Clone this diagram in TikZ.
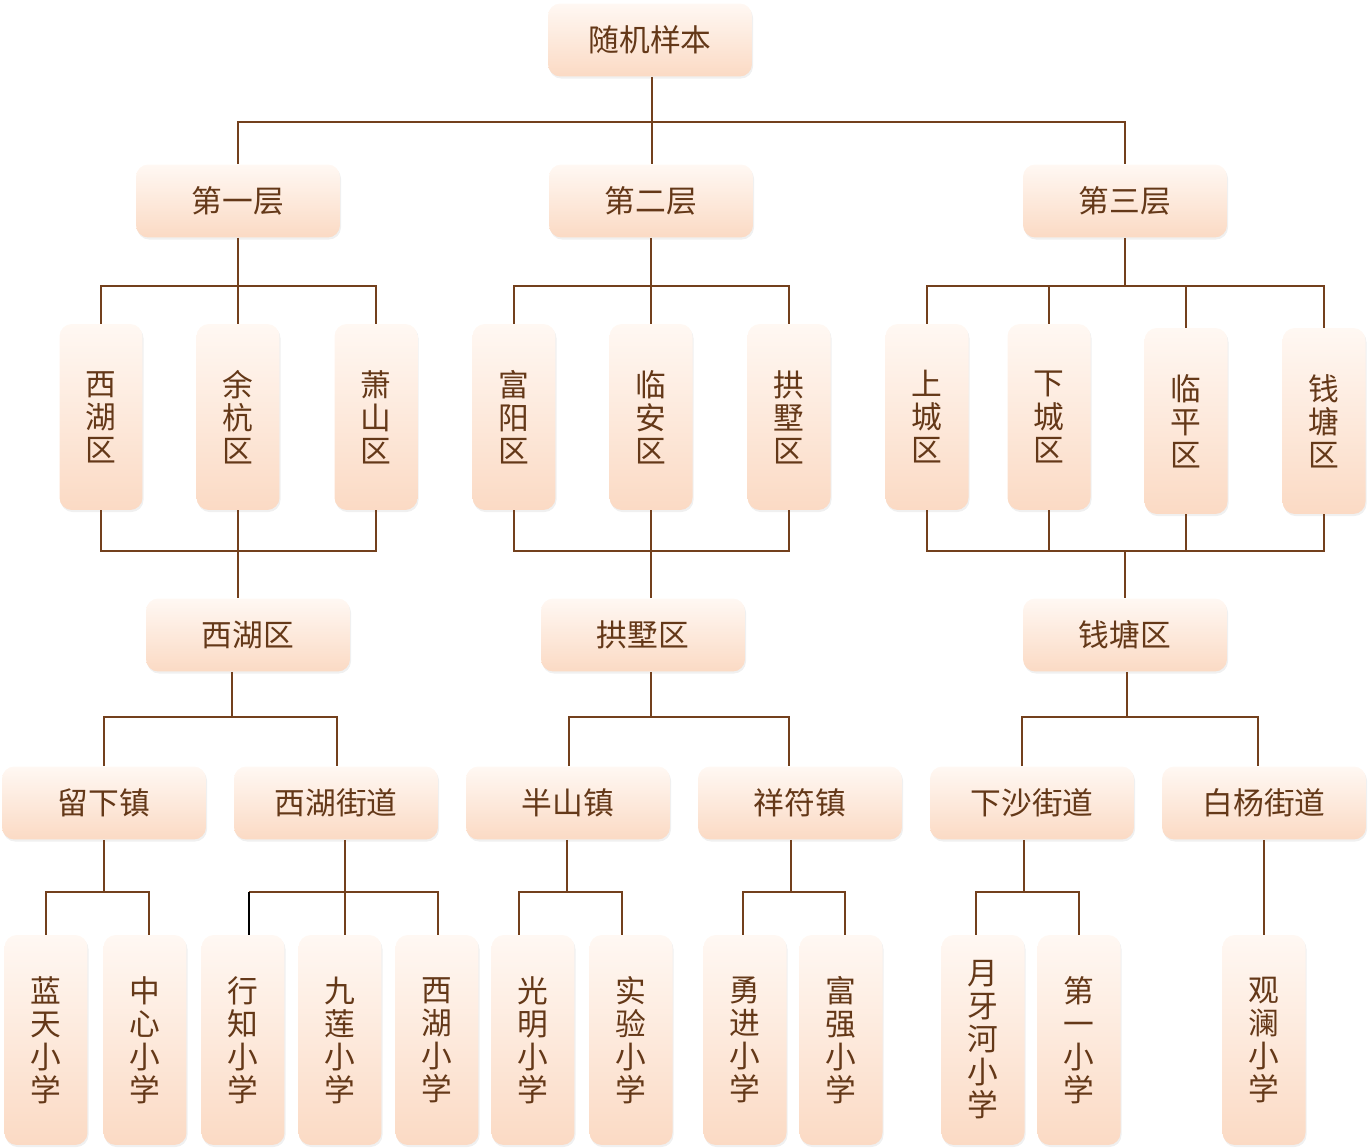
\documentclass[tikz,border=0pt]{standalone}
\usepackage{fontspec}
\newfontfamily\cjk{Noto Sans CJK SC}
\usetikzlibrary{shadows}
\definecolor{boxtop}{HTML}{FFF8F3}
\definecolor{boxbot}{HTML}{FBDAC4}
\definecolor{linec}{HTML}{73401D}
\definecolor{txtc}{HTML}{643818}
\tikzset{
  box/.style={rounded corners=7pt, top color=boxtop, bottom color=boxbot, draw=none,
    text=txtc, font=\cjk\fontsize{17.5}{18.8}\selectfont, align=center, inner sep=0pt,
    drop shadow={opacity=0.12, shadow xshift=0.6pt, shadow yshift=-1.2pt}},
  hbox/.style={box, minimum width=4.08cm, minimum height=1.46cm},
  vbox/.style={box, minimum width=1.66cm, minimum height=3.72cm},
  sbox/.style={box, minimum width=1.66cm, minimum height=4.2cm},
  conn/.style={draw=linec, line width=1.25pt},
}
\begin{document}
\begin{tikzpicture}[x=0.02cm,y=-0.02cm]
\useasboundingbox (0,0) rectangle (1369,1148);
% level 0
\node[hbox] (root) at (650,40) {随机样本};
% level 1
\node[hbox] (La) at (238,201) {第一层};
\node[hbox] (Lb) at (651,201) {第二层};
\node[hbox] (Lc) at (1125,201) {第三层};
% level 2
\node[vbox] (A1) at (101,417) {西\\湖\\区};
\node[vbox] (A2) at (238,417) {余\\杭\\区};
\node[vbox] (A3) at (376,417) {萧\\山\\区};
\node[vbox] (A4) at (514,417) {富\\阳\\区};
\node[vbox] (A5) at (651,417) {临\\安\\区};
\node[vbox] (A6) at (789,417) {拱\\墅\\区};
\node[vbox] (A7) at (927,417) {上\\城\\区};
\node[vbox] (A8) at (1049,417) {下\\城\\区};
\node[vbox] (A9) at (1186,421) {临\\平\\区};
\node[vbox] (A10) at (1324,421) {钱\\塘\\区};
% level 3
\node[hbox] (B1) at (248,635) {西湖区};
\node[hbox] (B2) at (643,635) {拱墅区};
\node[hbox] (B3) at (1125,635) {钱塘区};
% level 4
\node[hbox] (C1) at (104,803) {留下镇};
\node[hbox] (C2) at (336,803) {西湖街道};
\node[hbox] (C3) at (568,803) {半山镇};
\node[hbox] (C4) at (800,803) {祥符镇};
\node[hbox] (C5) at (1032,803) {下沙街道};
\node[hbox] (C6) at (1264,803) {白杨街道};
% level 5
\node[sbox] (D1) at (46,1040) {蓝\\天\\小\\学};
\node[sbox] (D2) at (145,1040) {中\\心\\小\\学};
\node[sbox] (D3) at (243,1040) {行\\知\\小\\学};
\node[sbox] (D4) at (340,1040) {九\\莲\\小\\学};
\node[sbox] (D5) at (437,1040) {西\\湖\\小\\学};
\node[sbox] (D6) at (533,1040) {光\\明\\小\\学};
\node[sbox] (D7) at (631,1040) {实\\验\\小\\学};
\node[sbox] (D8) at (745,1040) {勇\\进\\小\\学};
\node[sbox] (D9) at (841,1040) {富\\强\\小\\学};
\node[sbox] (D10) at (983,1040) {月\\牙\\河\\小\\学};
\node[sbox] (D11) at (1079,1040) {第\\一\\小\\学};
\node[sbox] (D12) at (1264,1040) {观\\澜\\小\\学};
% junctions
\coordinate (j0) at (652,122);
\coordinate (j1a) at (238,286);
\coordinate (j1b) at (651,286);
\coordinate (j1c) at (1125,286);
\coordinate (j2a) at (238,551);
\coordinate (j2b) at (651,551);
\coordinate (j2c) at (1125,551);
\coordinate (j3a) at (232,717);
\coordinate (j3b) at (651,717);
\coordinate (j3c) at (1127,717);
\coordinate (j4a) at (104,892);
\coordinate (j4b) at (345,892);
\coordinate (j4c) at (567,892);
\coordinate (j4d) at (791,892);
\coordinate (j4e) at (1024,892);
% connectors level 0-1
\draw[conn] (root.south -| j0) -- (j0);
\draw[conn] (La.north) |- (j0) -| (Lc.north);
\draw[conn] (j0) -- (Lb.north -| j0);
% level 1-2
\draw[conn] (La.south) -- (j1a);
\draw[conn] (A1.north) |- (j1a) -| (A3.north);
\draw[conn] (j1a) -- (A2.north);
\draw[conn] (Lb.south) -- (j1b);
\draw[conn] (A4.north) |- (j1b) -| (A6.north);
\draw[conn] (j1b) -- (A5.north);
\draw[conn] (Lc.south) -- (j1c);
\draw[conn] (A7.north) |- (j1c) -| (A10.north);
\draw[conn] (A8.north) -- (A8.north |- j1c);
\draw[conn] (A9.north) -- (A9.north |- j1c);
% level 2-3
\draw[conn] (A1.south) |- (j2a) -| (A3.south);
\draw[conn] (A2.south) -- (j2a) -- (B1.north -| j2a);
\draw[conn] (A4.south) |- (j2b) -| (A6.south);
\draw[conn] (A5.south) -- (j2b) -- (B2.north -| j2b);
\draw[conn] (A7.south) |- (j2c) -| (A10.south);
\draw[conn] (A8.south) -- (A8.south |- j2c);
\draw[conn] (A9.south) -- (A9.south |- j2c);
\draw[conn] (j2c) -- (B3.north);
% level 3-4
\draw[conn] (B1.south -| j3a) -- (j3a);
\draw[conn] (C1.north) |- (j3a) -| ([xshift=0.02cm]C2.north);
\draw[conn] (B2.south -| j3b) -- (j3b);
\draw[conn] ([xshift=0.02cm]C3.north) |- (j3b) -| ([xshift=-0.22cm]C4.north);
\draw[conn] (B3.south -| j3c) -- (j3c);
\draw[conn] ([xshift=-0.2cm]C5.north) |- (j3c) -| ([xshift=-0.12cm]C6.north);
% level 4-5
\draw[conn] (C1.south) -- (j4a);
\draw[conn] (D1.north) |- (j4a) -| ([xshift=0.08cm]D2.north);
\draw[conn] (C2.south -| j4b) -- (j4b);
\draw[conn] (j4b) -| ([xshift=0.02cm]D5.north);
\draw[conn] (j4b) -- (D4.north -| j4b);
\draw[conn] (j4b) -- ([xshift=0.12cm]D3.north |- j4b);
\draw[conn, draw=black] ([xshift=0.12cm]D3.north |- j4b) -- ([xshift=0.12cm]D3.north);
\draw[conn] (C3.south -| j4c) -- (j4c);
\draw[conn] ([xshift=-0.28cm]D6.north) |- (j4c) -| ([xshift=-0.18cm]D7.north);
\draw[conn] (C4.south -| j4d) -- (j4d);
\draw[conn] ([xshift=-0.04cm]D8.north) |- (j4d) -| ([xshift=0.08cm]D9.north);
\draw[conn] (C5.south -| j4e) -- (j4e);
\draw[conn] ([xshift=-0.14cm]D10.north) |- (j4e) -| (D11.north);
\draw[conn] (C6.south) -- (D12.north);
\end{tikzpicture}
\end{document}
